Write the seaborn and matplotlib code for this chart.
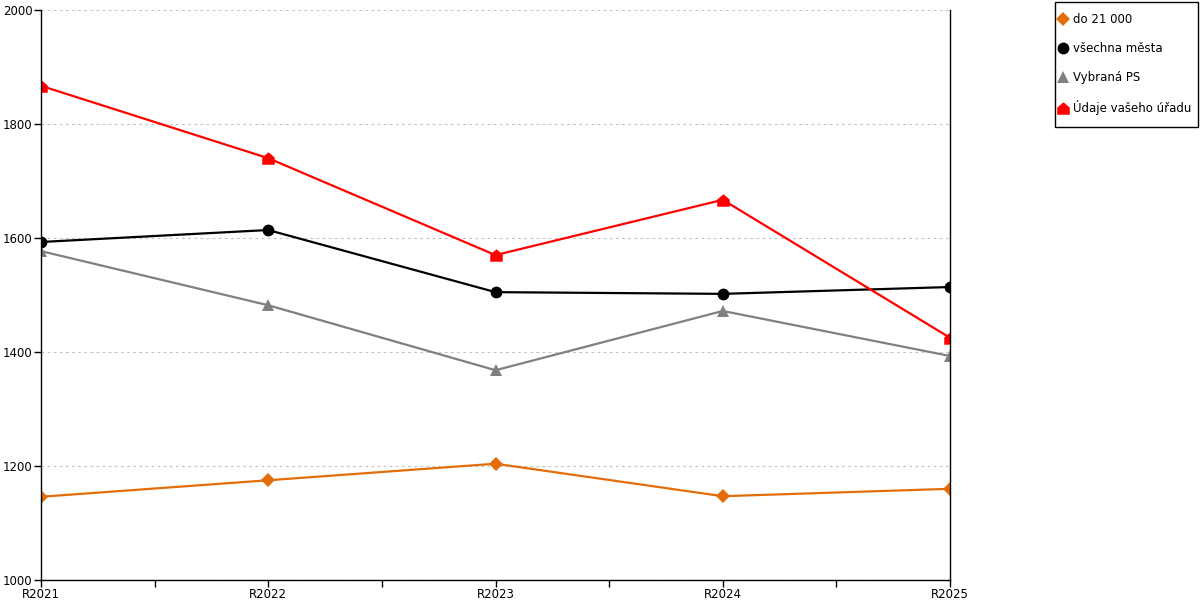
import matplotlib
matplotlib.use("Agg")
import matplotlib.pyplot as plt
import seaborn as sns
import pandas as pd
from matplotlib.path import Path
from matplotlib.lines import Line2D
from matplotlib.patches import Rectangle
from matplotlib.ticker import FixedLocator

categories = ["R2021", "R2022", "R2023", "R2024", "R2025"]
do_21000 = [1146, 1175, 1204, 1147, 1160]
vsechna_mesta = [1593, 1614, 1505, 1502, 1514]
vybrana_ps = [1577, 1482, 1368, 1472, 1393]
udaje_uradu = [1867, 1740, 1570, 1667, 1425]
series_names = ["do 21 000", "všechna města", "Vybraná PS", "Údaje vašeho úřadu"]
yticks = [1000, 1200, 1400, 1600, 1800, 2000]

sns.set_theme(style="white")
plt.rcParams['font.family'] = ['DejaVu Sans']

house = Path([(-1, -1), (1, -1), (1, 0.15), (0, 1), (-1, 0.15), (-1, -1)],
             [Path.MOVETO, Path.LINETO, Path.LINETO, Path.LINETO, Path.LINETO, Path.CLOSEPOLY])

styles = [
    ("#E46C0A", "D", 7),
    ("#000000", "o", 8.5),
    ("#808080", "^", 9),
    ("#FF0000", house, 9),
]
values = [do_21000, vsechna_mesta, vybrana_ps, udaje_uradu]

fig = plt.figure(figsize=(12, 6), dpi=100)
ax = fig.add_axes([41/1200, 20/600, (950-41)/1200, 570/600])

for name, vals, (col, mk, ms) in zip(series_names, values, styles):
    df = pd.DataFrame({"x": categories, "y": vals})
    sns.lineplot(data=df, x="x", y="y", ax=ax, color=col, marker=mk,
                 markersize=ms, markeredgewidth=0, linewidth=1.6, sort=False)

ax.set_xlim(0, 4)
ax.set_ylim(1000, 2000)
ax.set_yticks(yticks)
ax.set_xlabel("")
ax.set_ylabel("")
ax.xaxis.set_minor_locator(FixedLocator([0.5, 1.5, 2.5, 3.5]))
ax.tick_params(axis="x", which="both", direction="out", length=5, width=1,
               color="black", labelsize=8.5, pad=0.5, bottom=True)
ax.tick_params(axis="y", direction="out", length=5, width=1, color="black",
               labelsize=8.5, pad=1, left=True)
ax.grid(axis="y", color="#C4C4C4", linestyle=(0, (2.5, 3)), linewidth=0.8)
ax.grid(axis="x", visible=False)
for s in ["left", "bottom", "right"]:
    ax.spines[s].set_visible(True)
    ax.spines[s].set_color("black")
    ax.spines[s].set_linewidth(1)
ax.spines["top"].set_visible(False)
for lab in ax.get_xticklabels() + ax.get_yticklabels():
    lab.set_color("black")

# legend frame drawn separately
fig.patches.append(Rectangle((1055/1200, 1 - 127/600), 143/1200, 125/600,
                             transform=fig.transFigure, fill=True, facecolor="white",
                             edgecolor="black", linewidth=1, zorder=0))

handles = [Line2D([], [], linestyle="none", color=c, marker=m, markersize=ms*1.0, markeredgewidth=0)
           for (c, m, ms) in styles]
leg = fig.legend(handles, series_names, loc="upper left",
                 bbox_to_anchor=(1058/1200, 1 - 13/600), frameon=False,
                 fontsize=8.5, handlelength=0.9, handletextpad=0.4, labelspacing=1.36,
                 borderpad=0, borderaxespad=0)
for t in leg.get_texts():
    t.set_color("black")

fig.savefig("out.png", dpi=100)
